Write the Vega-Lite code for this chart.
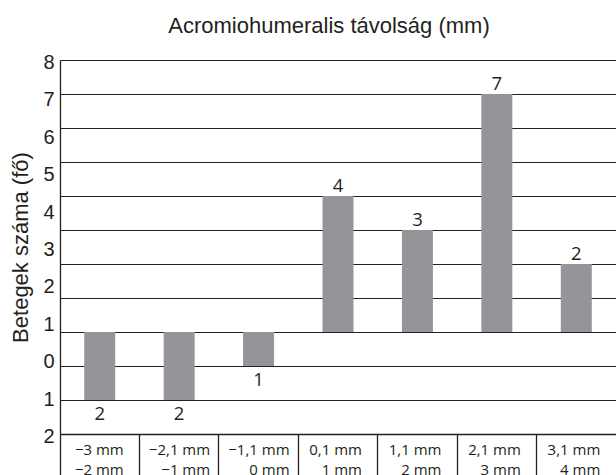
{
  "$schema": "https://vega.github.io/schema/vega-lite/v6.json",
  "autosize": {"type": "none"},
  "width": 556,
  "height": 374,
  "padding": {"left": 60, "top": 60, "right": 0, "bottom": 41},
  "background": "white",
  "config": {"view": {"stroke": null}},
  "title": {
    "text": "Acromiohumeralis távolság (mm)",
    "font": "Liberation Sans",
    "fontSize": 22,
    "fontWeight": "normal",
    "color": "#231f20",
    "anchor": "middle",
    "baseline": "alphabetic",
    "dx": -9,
    "dy": 30,
    "offset": 28
  },
  "layer": [
    {
      "data": {
        "values": [
          {"cat": "−3 mm|−2 mm", "v": -2, "n": 2},
          {"cat": "−2,1 mm|−1 mm", "v": -2, "n": 2},
          {"cat": "−1,1 mm|0 mm", "v": -1, "n": 1},
          {"cat": "0,1 mm|1 mm", "v": 4, "n": 4},
          {"cat": "1,1 mm|2 mm", "v": 3, "n": 3},
          {"cat": "2,1 mm|3 mm", "v": 7, "n": 7},
          {"cat": "3,1 mm|4 mm", "v": 2, "n": 2}
        ]
      },
      "encoding": {
        "x": {
          "field": "cat",
          "type": "nominal",
          "sort": null,
          "scale": {"paddingInner": 0, "paddingOuter": 0},
          "axis": {
            "title": null,
            "orient": "bottom",
            "bandPosition": 0,
            "domain": true,
            "domainColor": "#231f20",
            "domainWidth": 1.3,
            "ticks": true,
            "tickSize": 41,
            "tickColor": "#231f20",
            "tickWidth": 1.3,
            "grid": false,
            "labelAngle": 0,
            "labelPadding": -33,
            "labelAlign": "right",
            "labelBaseline": "top",
            "labelOffset": {
              "condition": {"test": "indexof(datum.value, '−2,1') >= 0 || indexof(datum.value, '−1,1') >= 0", "value": 31},
              "value": 24
            },
            "labelFont": "Open Sans",
            "labelFontSize": 15,
            "labelColor": "#231f20",
            "labelLineHeight": 20.5,
            "labelOverlap": false,
            "labelBound": false,
            "labelFlush": false,
            "labelExpr": "split(datum.label, '|')"
          }
        },
        "y": {
          "field": "v",
          "type": "quantitative",
          "scale": {"domain": [-3, 8], "nice": false, "zero": false},
          "axis": {
            "title": null,
            "values": [8, 7, 6, 5, 4, 3, 2, 1, 0, -1, -2, -3],
            "grid": true,
            "gridColor": "#231f20",
            "gridWidth": 1.2,
            "gridOpacity": 1,
            "labels": false,
            "ticks": false,
            "domain": true,
            "domainColor": "#231f20",
            "domainWidth": 1.3
          }
        }
      },
      "layer": [
        {"mark": {"type": "bar", "width": {"band": 0.39}, "color": "#939598"}},
        {
          "transform": [{"filter": "datum.v > 0"}],
          "mark": {"type": "text", "font": "Open Sans", "fontSize": 18.5, "color": "#231f20", "baseline": "alphabetic", "dy": -4.5},
          "encoding": {"text": {"field": "n", "type": "quantitative"}}
        },
        {
          "transform": [{"filter": "datum.v < 0"}],
          "mark": {"type": "text", "font": "Open Sans", "fontSize": 18.5, "color": "#231f20", "baseline": "alphabetic", "dy": 20},
          "encoding": {"text": {"field": "n", "type": "quantitative"}}
        }
      ]
    },
    {
      "data": {
        "values": [
          {"lab": 8}, {"lab": 7}, {"lab": 6}, {"lab": 5}, {"lab": 4}, {"lab": 3},
          {"lab": 2}, {"lab": 1}, {"lab": 0}, {"lab": -1}, {"lab": -2}
        ]
      },
      "mark": {"type": "point", "opacity": 0},
      "encoding": {
        "y": {
          "field": "lab",
          "type": "quantitative",
          "scale": {"domain": [-2, 8], "nice": false, "zero": false},
          "axis": {
            "orient": "left",
            "values": [8, 7, 6, 5, 4, 3, 2, 1, 0, -1, -2],
            "labelExpr": "abs(datum.value)",
            "labelOffset": 2.5,
            "domain": false,
            "ticks": false,
            "grid": false,
            "labelPadding": 6,
            "labelFont": "Liberation Sans",
            "labelFontSize": 20,
            "labelColor": "#231f20",
            "labelOverlap": false,
            "labelBound": false,
            "labelFlush": false,
            "title": "Betegek száma (fő)",
            "titleFont": "Liberation Sans",
            "titleFontSize": 22,
            "titleFontWeight": "normal",
            "titleColor": "#231f20",
            "titlePadding": 10
          }
        }
      }
    }
  ],
  "resolve": {"scale": {"y": "independent"}}
}
